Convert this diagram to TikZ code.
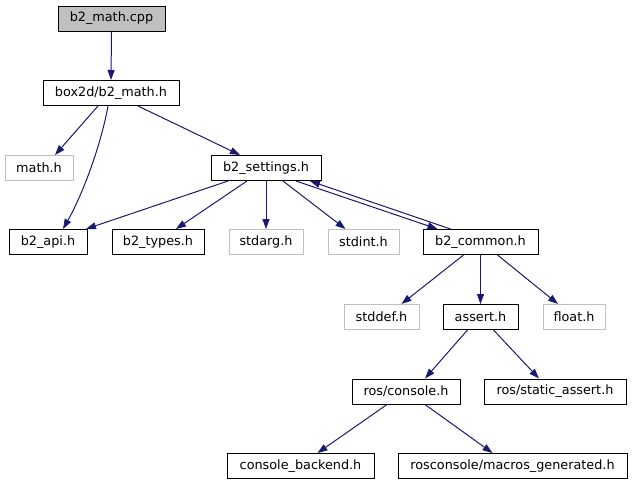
\documentclass[tikz,border=0pt]{standalone}
\usepackage{fontspec}
\setmainfont{DejaVu Sans}
\usetikzlibrary{arrows.meta}
\definecolor{edgec}{HTML}{191970}
\definecolor{grayb}{HTML}{BFBFBF}
\tikzset{
  box/.style={draw=black, line width=1pt, inner sep=0pt, minimum height=25pt, font=\fontsize{12.8}{15}\selectfont, text=black},
  sysbox/.style={box, draw=grayb},
  rootbox/.style={box, fill=grayb},
  edge/.style={draw=edgec, line width=1pt, -{Triangle[length=10pt,width=7pt]}},
}
\begin{document}
\begin{tikzpicture}[x=1pt,y=-1pt]
\useasboundingbox (0,0) rectangle (633,485);
\node[rootbox, minimum width=107pt] (cpp) at (111.5,18.5) {b2\_math.cpp};
\node[box, minimum width=136pt] (box2d) at (111,93) {box2d/b2\_math.h};
\node[sysbox, minimum width=68pt] (mathh) at (39,168) {math.h};
\node[box, minimum width=110pt] (settings) at (266,168) {b2\_settings.h};
\node[box, minimum width=78pt] (api) at (48,242) {b2\_api.h};
\node[box, minimum width=92pt] (types) at (158,242) {b2\_types.h};
\node[sysbox, minimum width=74pt] (stdarg) at (266,242) {stdarg.h};
\node[sysbox, minimum width=71pt] (stdint) at (363.5,242) {stdint.h};
\node[box, minimum width=115pt] (common) at (480.5,242) {b2\_common.h};
\node[sysbox, minimum width=75pt] (stddef) at (381.5,317) {stddef.h};
\node[box, minimum width=75pt] (assert) at (480.5,317) {assert.h};
\node[sysbox, minimum width=62pt] (float) at (574,317) {float.h};
\node[box, minimum width=108pt] (console) at (406,391.5) {ros/console.h};
\node[box, minimum width=142pt] (static) at (555,391.5) {ros/static\_assert.h};
\node[box, minimum width=147pt] (backend) at (300.5,466) {console\_backend.h};
\node[box, minimum width=229pt] (macros) at (512.5,466) {rosconsole/macros\_generated.h};

\draw[edge] (cpp.south) -- (box2d.north);
\draw[edge] ([xshift=-13pt]box2d.south) -- ([xshift=16pt]mathh.north);
\draw[edge] ([xshift=-3pt]box2d.south) .. controls (102,140) and (85,190) .. ([xshift=15pt]api.north);
\draw[edge] ([xshift=27pt]box2d.south) -- ([xshift=-26pt]settings.north);
\draw[edge] ([xshift=-38pt]settings.south) -- ([xshift=38pt]api.north);
\draw[edge] ([xshift=-19pt]settings.south) -- ([xshift=18pt]types.north);
\draw[edge] (settings.south) -- (stdarg.north);
\draw[edge] ([xshift=17pt]settings.south) -- ([xshift=-18pt]stdint.north);
\draw[edge] ([xshift=30pt]settings.south) -- ([xshift=-43pt]common.north);
\draw[edge] ([xshift=-30pt]common.north) -- ([xshift=44pt]settings.south);
\draw[edge] ([xshift=-17pt]common.south) -- ([xshift=20pt]stddef.north);
\draw[edge] (common.south) -- (assert.north);
\draw[edge] ([xshift=17pt]common.south) -- ([xshift=-16pt]float.north);
\draw[edge] ([xshift=-13pt]assert.south) -- ([xshift=19pt]console.north);
\draw[edge] ([xshift=13pt]assert.south) -- ([xshift=-16pt]static.north);
\draw[edge] ([xshift=-19pt]console.south) -- ([xshift=17pt]backend.north);
\draw[edge] ([xshift=19pt]console.south) -- ([xshift=-20pt]macros.north);
\end{tikzpicture}
\end{document}
